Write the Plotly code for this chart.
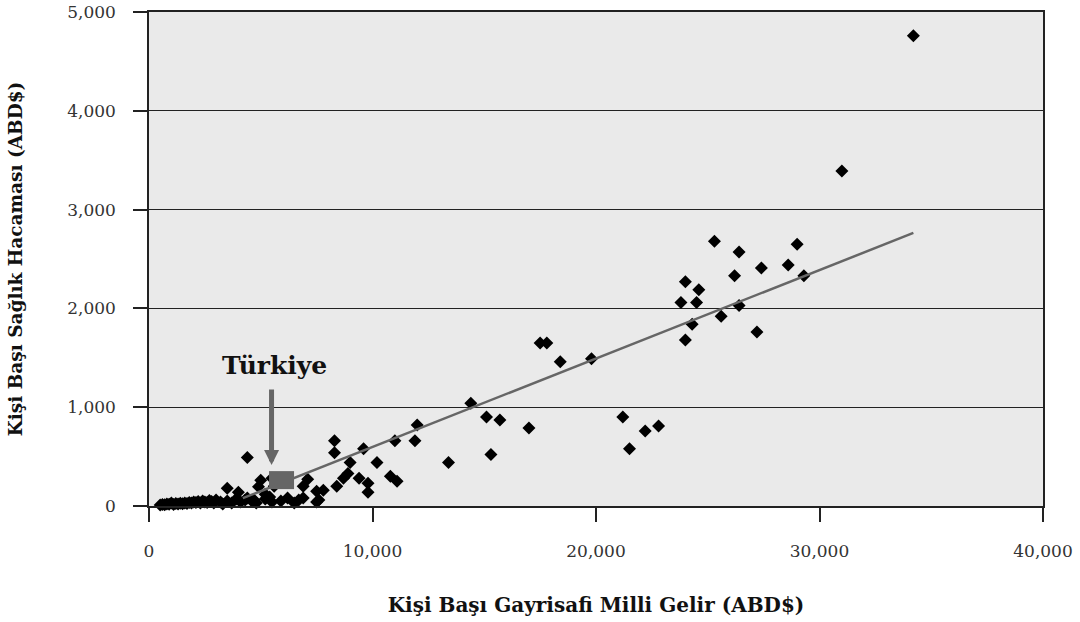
import plotly.graph_objects as go

# Per-capita GNI (USD) and per-capita health expenditure (USD)
gni = [500, 600, 700, 800, 900, 1000, 1100, 1200, 1300, 1400, 1500, 1600, 1700, 1800,
       1900, 2000, 2100, 2200, 2300, 2400, 2500, 2600, 2700, 2800, 2900, 3000, 3200,
       3300, 3500, 3700, 3900, 4100, 4300, 4600, 4800, 5200, 5500, 5900, 6200, 6500, 6700,
       3500, 4000, 4400, 4700, 4400, 4900, 5000, 5500, 5600, 5200, 5400, 6900, 6900,
       7100, 7500, 7800, 7600, 7500, 8300, 8300, 8400, 8700, 8900, 9000, 9400, 9600,
       9800, 9800, 10200, 10800, 11100, 11000, 11900, 12000, 13400, 14400, 15100, 15300,
       15700, 17000, 17500, 17800, 18400, 19800, 21200, 21500, 22200, 22800, 23800,
       24000, 24000, 24300, 24500, 24600, 25300, 25600, 26200, 26400, 26400, 27200,
       27400, 28600, 29000, 29300, 31000, 34200]
health = [10, 15, 12, 20, 18, 30, 15, 25, 20, 28, 22, 30, 25, 35,
          30, 40, 35, 45, 30, 50, 40, 35, 55, 45, 30, 60, 40,
          20, 50, 30, 70, 40, 60, 50, 30, 70, 40, 50, 80, 30, 60,
          180, 140, 490, 60, 80, 195, 260, 280, 200, 120, 90, 80, 200,
          270, 150, 160, 60, 40, 660, 540, 200, 280, 330, 440, 280, 580,
          230, 140, 440, 300, 250, 660, 660, 820, 440, 1040, 900, 520,
          870, 790, 1650, 1650, 1460, 1490, 900, 580, 760, 810, 2060,
          1680, 2270, 1840, 2060, 2190, 2680, 1920, 2330, 2570, 2030, 1760,
          2410, 2440, 2650, 2330, 3390, 4760]

# Highlighted country
turkey_name = "Türkiye"
turkey_gni = 5930
turkey_health = 262

# Linear trend (Excel-style trendline): health = slope * gni + intercept
trend_slope = 0.0895
trend_intercept = -297
trend_start = 4200

x_ticks = [0, 10000, 20000, 30000, 40000]
x_tick_labels = ["0", "10,000", "20,000", "30,000", "40,000"]
y_ticks = [0, 1000, 2000, 3000, 4000, 5000]
y_tick_labels = ["0", "1,000", "2,000", "3,000", "4,000", "5,000"]

x_title = "Kişi Başı Gayrisafi Milli Gelir (ABD$)"
y_title = "Kişi Başı Sağlık Hacaması (ABD$)"

trend_x = [trend_start, max(gni)]
trend_y = [trend_slope * v + trend_intercept for v in trend_x]

FONT = "DejaVu Serif"

fig = go.Figure()
fig.add_trace(go.Scatter(
    x=gni, y=health, mode="markers",
    marker=dict(symbol="diamond", size=10, color="black", line=dict(width=0)),
    cliponaxis=False, hoverinfo="x+y", showlegend=False,
))
fig.add_trace(go.Scatter(
    x=trend_x, y=trend_y, mode="lines",
    line=dict(color="#666666", width=2.5),
    hoverinfo="skip", showlegend=False,
))

# Türkiye highlight rectangle (pixel-sized, anchored at the data point)
fig.add_shape(
    type="rect", xref="x", yref="y",
    xsizemode="pixel", ysizemode="pixel",
    xanchor=turkey_gni, yanchor=turkey_health,
    x0=-12.5, x1=12.5, y0=-9, y1=9,
    fillcolor="#666666", line=dict(width=0), layer="above",
)

# Arrow
fig.add_annotation(
    x=turkey_gni, y=turkey_health, xref="x", yref="y",
    xshift=-10, yshift=15,
    ax=0, ay=-77, axref="pixel", ayref="pixel",
    text="", showarrow=True,
    arrowhead=2, arrowsize=0.6, arrowwidth=5, arrowcolor="#666666",
)
# Label
fig.add_annotation(
    x=turkey_gni, y=turkey_health, xref="x", yref="y",
    xshift=-7, yshift=115,
    text="<b>" + turkey_name + "</b>", showarrow=False,
    font=dict(family=FONT, size=25, color="#111111"),
)

fig.update_layout(
    width=1080, height=622,
    margin=dict(l=149, r=37, t=12, b=116),
    paper_bgcolor="white", plot_bgcolor="#EAEAEA",
    font=dict(family=FONT, size=17, color="#333333"),
    showlegend=False,
)
fig.update_xaxes(
    range=[0, 40000], tickvals=x_ticks, ticktext=x_tick_labels,
    automargin=False,
    showgrid=False, zeroline=False,
    showline=True, linecolor="#222222", linewidth=1.5, mirror=True,
    ticks="outside", ticklen=14, tickcolor="#222222", tickwidth=1.5,
    ticklabelstandoff=15,
    tickfont=dict(family=FONT, size=17, color="#333333"),
    title=dict(text="<b>" + x_title + "</b>", standoff=38,
               font=dict(family=FONT, size=20, color="#111111")),
)
fig.update_yaxes(
    range=[0, 5000], tickvals=y_ticks, ticktext=y_tick_labels,
    automargin=False,
    showgrid=True, gridcolor="#222222", gridwidth=1.2, zeroline=False,
    showline=True, linecolor="#222222", linewidth=1.5, mirror=True,
    ticks="outside", ticklen=14, tickcolor="#222222", tickwidth=1.5,
    ticklabelstandoff=14,
    tickfont=dict(family=FONT, size=17, color="#333333"),
    title=dict(text="<b>" + y_title + "</b>", standoff=40,
               font=dict(family=FONT, size=18.5, color="#111111")),
)

fig.write_html("out.html")
